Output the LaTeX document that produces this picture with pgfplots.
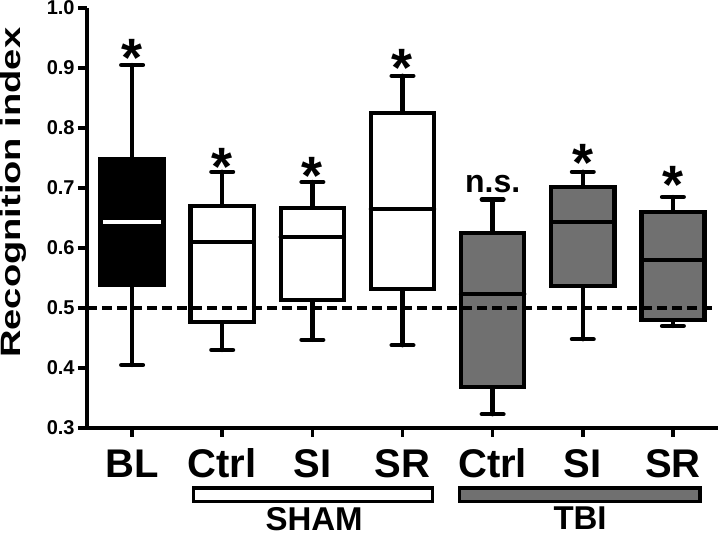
\documentclass[border=0pt]{standalone}
\usepackage{fontspec}
\setmainfont{Liberation Sans}
\usepackage{graphicx}
\usepackage{pgfplots}
\pgfplotsset{compat=1.18}
\usepgfplotslibrary{statistics}
\definecolor{tbigray}{RGB}{112,112,112}

\pgfplotsset{
  bx/.style={draw=black, line width=2.2pt, line cap=round, solid,
    boxplot/draw direction=y,
    boxplot/box extend=0.7, boxplot/whisker extend=0.24},
}
\tikzset{
  sigstar/.style={font=\fontsize{27}{27}\bfseries, inner sep=0pt, anchor=center, yshift=-5.3pt},
}

\begin{document}
\begin{tikzpicture}
% page = reference frame (axis box is 0..315.5pt x 0..210pt)
\useasboundingbox (-43.5pt,-54pt) rectangle (316.5pt,214pt);
\begin{axis}[
  scale only axis,
  width=315.5pt, height=210pt,
  xmin=0.5, xmax=7.5,
  ymin=0.3, ymax=1.0,
  axis lines*=left,
  axis line style={line width=1.75pt, black},
  tick style={line width=1.75pt, black},
  tick align=outside,
  major tick length=4.5pt,
  xtick={1,2,3,4,5,6,7},
  xticklabels={BL, Ctrl, SI, SR, Ctrl, SI, SR},
  ytick={0.3,0.4,0.5,0.6,0.7,0.8,0.9,1.0},
  yticklabels={0.3,0.4,0.5,0.6,0.7,0.8,0.9,1.0},
  xticklabel style={font=\fontsize{20}{20}\bfseries, inner sep=0pt,
    text height=14.6pt, text depth=0pt, yshift=-5.5pt},
  yticklabel style={font=\fontsize{10}{10}\bfseries, inner sep=0pt, xshift=-1.5pt},
  clip=false,
]
% BL
\addplot[bx, fill=black,
  boxplot/every median/.style={draw=white, line width=2pt, line cap=butt, shorten <=1.2pt, shorten >=1.2pt},
  boxplot prepared={draw position=1, lower whisker=0.405, lower quartile=0.538,
    median=0.643, upper quartile=0.748, upper whisker=0.905}] coordinates {};
% SHAM
\addplot[bx, fill=white,
  boxplot prepared={draw position=2, lower whisker=0.430, lower quartile=0.477,
    median=0.610, upper quartile=0.670, upper whisker=0.727}] coordinates {};
\addplot[bx, fill=white,
  boxplot prepared={draw position=3, lower whisker=0.447, lower quartile=0.513,
    median=0.618, upper quartile=0.667, upper whisker=0.710}] coordinates {};
\addplot[bx, fill=white,
  boxplot prepared={draw position=4, lower whisker=0.438, lower quartile=0.532,
    median=0.665, upper quartile=0.825, upper whisker=0.887}] coordinates {};
% TBI
\addplot[bx, fill=tbigray,
  boxplot prepared={draw position=5, lower whisker=0.323, lower quartile=0.368,
    median=0.523, upper quartile=0.625, upper whisker=0.681}] coordinates {};
\addplot[bx, fill=tbigray,
  boxplot prepared={draw position=6, lower whisker=0.448, lower quartile=0.537,
    median=0.643, upper quartile=0.702, upper whisker=0.727}] coordinates {};
\addplot[bx, fill=tbigray,
  boxplot prepared={draw position=7, lower whisker=0.470, lower quartile=0.480,
    median=0.580, upper quartile=0.660, upper whisker=0.685}] coordinates {};

% chance level
\addplot[black, line width=2pt, dash pattern=on 4.8pt off 2.7pt]
  coordinates {(0.5,0.5) (7.48,0.5)};

% significance marks
\node[sigstar] at (axis cs:1,0.935) {*};
\node[sigstar] at (axis cs:2,0.752) {*};
\node[sigstar] at (axis cs:3,0.738) {*};
\node[sigstar] at (axis cs:4,0.918) {*};
\node[font=\fontsize{16}{16}\bfseries, inner sep=0pt, anchor=base] at (axis cs:5,0.692) {n.s.};
\node[sigstar] at (axis cs:6,0.760) {*};
\node[sigstar] at (axis cs:7,0.722) {*};

% group bars
\draw[line width=1.6pt, fill=white] (axis cs:1.68,0.200) rectangle (axis cs:4.33,0.178);
\draw[line width=1.6pt, fill=tbigray] (axis cs:4.63,0.200) rectangle (axis cs:7.30,0.178);
\node[font=\fontsize{16.5}{16.5}\bfseries, inner sep=0pt] at (axis cs:3.02,0.148) {SHAM};
\node[font=\fontsize{16.5}{16.5}\bfseries, inner sep=0pt] at (axis cs:5.97,0.149) {TBI};

% y label
\node[rotate=90, inner sep=0pt, font=\fontsize{14}{14}\bfseries]
  at ([xshift=-36.8pt]rel axis cs:0,0.56) {\scalebox{1.36}[1]{Recognition index}};
\end{axis}
\end{tikzpicture}
\end{document}
